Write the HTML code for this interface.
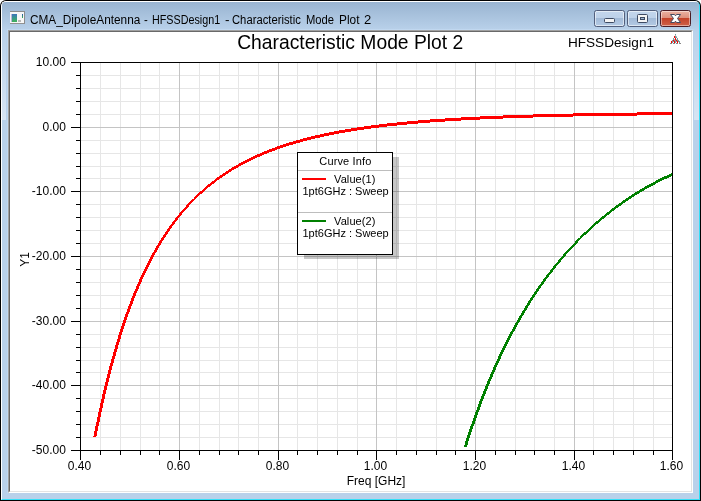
<!DOCTYPE html>
<html><head><meta charset="utf-8"><title>CMA_DipoleAntenna - HFSSDesign1 - Characteristic Mode Plot 2</title>
<style>
html,body{margin:0;padding:0;background:#fff;}
body{width:701px;height:501px;position:relative;overflow:hidden;font-family:"Liberation Sans",Arial,sans-serif;}
.abs{position:absolute;box-sizing:border-box;}
#outer{left:0;top:0;width:701px;height:501px;background:#000;border-radius:6px 6px 0 0;}
#inner{left:1px;top:1px;width:699px;height:499px;background:#b9d1ea;border-radius:5px 5px 0 0;border-left:1px solid #fff;border-top:1px solid #fff;border-right:1px solid #35dff7;border-bottom:1px solid #35dff7;}
#cap{left:2px;top:2px;width:697px;height:28px;background:linear-gradient(#99b4d1,#b9d1ea);border-radius:4px 4px 0 0;}
#hl{left:7px;top:29px;width:687px;height:465px;border:1px solid #c1d8f0;border-right-color:#b9d1ea;border-bottom-color:#b9d1ea;}
#edge{left:8px;top:30px;width:685px;height:463px;border:1px solid;border-color:#a0a0a0 #fff #fff #a0a0a0;}
#edge2{left:9px;top:31px;width:683px;height:461px;border:1px solid;border-color:#696969 #e3e3e3 #e3e3e3 #696969;background:#fff;}
#ttl{left:30px;top:11.5px;height:17px;line-height:17px;font-size:12.5px;color:#000;white-space:nowrap;}
#ttl span{position:absolute;top:0;transform-origin:0 0;white-space:nowrap;}
.btn{top:10px;width:31px;height:17px;border:1px solid #525f7c;border-radius:2.5px;box-shadow:inset 0 0 0 1px rgba(255,255,255,.55);background:linear-gradient(#c3d6ec 0,#bdd1e9 47%,#a3bbd8 50%,#b4cae4 100%);}
#bmin{left:594px;}#bmax{left:627px;}
#bcls{left:660px;border-color:#4b1c24;background:linear-gradient(#eab2a3 0,#dd8f7c 47%,#c4432a 50%,#cf6148 100%);box-shadow:inset 0 0 0 1px rgba(255,255,255,.45);}
.sg{top:30px;height:90px;background:linear-gradient(rgba(255,255,255,0),rgba(255,255,255,.42));}
.plot{position:absolute;left:0;top:0;}
#ico{left:10px;top:11px;width:15px;height:13px;background:#f7f7f7;border:1px solid #8c8c8c;border-left:0;border-bottom-color:#919191;}
#ico i{position:absolute;left:2px;top:2px;width:5px;height:8px;background:linear-gradient(#3d74bb,#3a9a8a 50%,#3fb058);box-shadow:-1px 0 0 #b9b4dc;}
#ico b{position:absolute;left:12px;top:2px;width:1px;height:4px;background:linear-gradient(#2a55b0,#3cb04a);}
#ico u{position:absolute;left:8px;top:8px;width:3px;height:2px;background:#b8b8b8;}
</style></head><body>
<div id="outer" class="abs"></div><div id="inner" class="abs"></div><div id="cap" class="abs"></div>
<div id="hl" class="abs"></div><div class="abs sg" style="left:2px;width:4px"></div><div class="abs sg" style="left:694px;width:5px"></div><div id="edge" class="abs"></div><div id="edge2" class="abs"></div>
<div id="ico" class="abs"><i></i><b></b><u></u></div>
<div id="ttl" class="abs"><span style="left:-0.36px;transform:scaleX(0.9450)">CMA_DipoleAntenna</span><span style="left:114.37px;transform:scaleX(0.9069)">-</span><span style="left:121.70px;transform:scaleX(0.8601)">HFSSDesign1</span><span style="left:194.94px;transform:scaleX(1.0813)">-</span><span style="left:201.97px;transform:scaleX(0.8999)">Characteristic</span><span style="left:275.97px;transform:scaleX(0.8972)">Mode</span><span style="left:309.34px;transform:scaleX(0.9480)">Plot</span><span style="left:333.67px;transform:scaleX(1.0408)">2</span></div>
<div id="bmin" class="abs btn"><svg width="29" height="15" style="position:absolute;left:0;top:0"><rect x="9.5" y="7.5" width="10" height="4" rx="1" fill="#f4f4f4" stroke="#3d4a62"/></svg></div>
<div id="bmax" class="abs btn"><svg width="29" height="15" style="position:absolute;left:0;top:0"><rect x="9.5" y="3.5" width="10" height="8" rx="1" fill="#f4f4f4" stroke="#3d4a62"/><rect x="12.5" y="6.5" width="4" height="2" fill="#9fb6d2" stroke="#3d4a62"/></svg></div>
<div id="bcls" class="abs btn"><svg width="29" height="15" style="position:absolute;left:0;top:0"><path d="M9.5 3.5H13.5L14.5 4.83L15.5 3.5H19.5L16.5 7.5L19.5 11.5H15.5L14.5 10.17L13.5 11.5H9.5L12.5 7.5Z" fill="#fff" stroke="#454a60" stroke-width="1" stroke-linejoin="round"/></svg></div>
<svg class="plot" width="701" height="501" viewBox="0 0 701 501" font-family="Liberation Sans, Arial, sans-serif"><g fill="#e6e6e6"><rect x="100" y="63" width="1" height="387"/><rect x="120" y="63" width="1" height="387"/><rect x="140" y="63" width="1" height="387"/><rect x="159" y="63" width="1" height="387"/><rect x="199" y="63" width="1" height="387"/><rect x="219" y="63" width="1" height="387"/><rect x="238" y="63" width="1" height="387"/><rect x="258" y="63" width="1" height="387"/><rect x="297" y="63" width="1" height="387"/><rect x="317" y="63" width="1" height="387"/><rect x="337" y="63" width="1" height="387"/><rect x="357" y="63" width="1" height="387"/><rect x="396" y="63" width="1" height="387"/><rect x="416" y="63" width="1" height="387"/><rect x="436" y="63" width="1" height="387"/><rect x="455" y="63" width="1" height="387"/><rect x="495" y="63" width="1" height="387"/><rect x="515" y="63" width="1" height="387"/><rect x="534" y="63" width="1" height="387"/><rect x="554" y="63" width="1" height="387"/><rect x="593" y="63" width="1" height="387"/><rect x="613" y="63" width="1" height="387"/><rect x="633" y="63" width="1" height="387"/><rect x="653" y="63" width="1" height="387"/><rect x="81" y="75" width="591" height="1"/><rect x="81" y="88" width="591" height="1"/><rect x="81" y="101" width="591" height="1"/><rect x="81" y="114" width="591" height="1"/><rect x="81" y="140" width="591" height="1"/><rect x="81" y="153" width="591" height="1"/><rect x="81" y="166" width="591" height="1"/><rect x="81" y="178" width="591" height="1"/><rect x="81" y="204" width="591" height="1"/><rect x="81" y="217" width="591" height="1"/><rect x="81" y="230" width="591" height="1"/><rect x="81" y="243" width="591" height="1"/><rect x="81" y="269" width="591" height="1"/><rect x="81" y="282" width="591" height="1"/><rect x="81" y="295" width="591" height="1"/><rect x="81" y="308" width="591" height="1"/><rect x="81" y="334" width="591" height="1"/><rect x="81" y="347" width="591" height="1"/><rect x="81" y="360" width="591" height="1"/><rect x="81" y="372" width="591" height="1"/><rect x="81" y="398" width="591" height="1"/><rect x="81" y="411" width="591" height="1"/><rect x="81" y="424" width="591" height="1"/><rect x="81" y="437" width="591" height="1"/></g>
<g fill="#c4c4c4"><rect x="179" y="63" width="1" height="387"/><rect x="278" y="63" width="1" height="387"/><rect x="376" y="63" width="1" height="387"/><rect x="475" y="63" width="1" height="387"/><rect x="574" y="63" width="1" height="387"/><rect x="81" y="127" width="591" height="1"/><rect x="81" y="191" width="591" height="1"/><rect x="81" y="256" width="591" height="1"/><rect x="81" y="321" width="591" height="1"/><rect x="81" y="385" width="591" height="1"/></g>
<path d="M393 157H399V259H304V255H393Z" fill="#000" fill-opacity="0.22"/>
<clipPath id="pc"><rect x="81" y="63" width="591" height="387"/></clipPath>
<g clip-path="url(#pc)"><path d="M637 112h36v1h-36zM573 113h100v1h-100zM533 114h140v1h-140zM503 115h134v1h-134zM480 116h93v1h-93zM461 117h72v1h-72zM445 118h58v1h-58zM430 119h50v1h-50zM418 120h43v1h-43zM407 121h38v1h-38zM397 122h33v1h-33zM387 123h31v1h-31zM379 124h28v1h-28zM371 125h26v1h-26zM364 126h23v1h-23zM357 127h22v1h-22zM351 128h20v1h-20zM345 129h19v1h-19zM339 130h18v1h-18zM334 131h17v1h-17zM329 132h16v1h-16zM324 133h15v1h-15zM320 134h14v1h-14zM315 135h14v1h-14zM311 136h13v1h-13zM307 137h13v1h-13zM303 138h12v1h-12zM300 139h11v1h-11zM296 140h11v1h-11zM293 141h10v1h-10zM289 142h11v1h-11zM286 143h10v1h-10zM283 144h10v1h-10zM280 145h9v1h-9zM277 146h9v1h-9zM275 147h8v1h-8zM272 148h8v1h-8zM269 149h8v1h-8zM267 150h8v1h-8zM264 151h8v1h-8zM262 152h7v1h-7zM260 153h7v1h-7zM257 154h7v1h-7zM255 155h7v1h-7zM253 156h7v1h-7zM251 157h6v1h-6zM249 158h6v1h-6zM247 159h6v1h-6zM245 160h6v1h-6zM243 161h6v1h-6zM241 162h6v1h-6zM239 163h6v1h-6zM238 164h5v1h-5zM236 165h5v1h-5zM234 166h5v1h-5zM232 167h6v1h-6zM231 168h5v1h-5zM229 169h5v1h-5zM228 170h4v1h-4zM226 171h5v1h-5zM225 172h4v1h-4zM223 173h5v1h-5zM222 174h4v1h-4zM220 175h5v1h-5zM219 176h4v1h-4zM217 177h5v1h-5zM216 178h4v1h-4zM215 179h4v1h-4zM214 180h3v1h-3zM212 181h4v1h-4zM211 182h4v1h-4zM210 183h4v1h-4zM208 184h4v1h-4zM207 185h4v1h-4zM206 186h4v1h-4zM205 187h3v1h-3zM204 188h3v1h-3zM203 189h3v1h-3zM202 190h3v1h-3zM200 191h4v1h-4zM199 192h4v1h-4zM198 193h4v1h-4zM197 194h3v1h-3zM196 195h3v1h-3zM195 196h3v1h-3zM194 197h3v1h-3zM194 198h2v1h-2zM192 199h3v1h-3zM191 200h3v1h-3zM190 201h3v1h-3zM189 202h3v1h-3zM188 203h3v1h-3zM187 204h3v1h-3zM186 205h3v1h-3zM186 206h3v1h-3zM185 207h3v1h-3zM184 208h3v1h-3zM183 209h3v1h-3zM182 210h3v1h-3zM181 211h3v1h-3zM180 212h3v1h-3zM179 213h3v1h-3zM179 214h3v1h-3zM178 215h3v1h-3zM177 216h3v1h-3zM176 217h3v1h-3zM175 218h3v1h-3zM175 219h3v1h-3zM174 220h3v1h-3zM173 221h3v1h-3zM172 222h3v1h-3zM172 223h3v1h-3zM171 224h3v1h-3zM170 225h3v1h-3zM169 226h3v1h-3zM169 227h3v1h-3zM168 228h3v1h-3zM167 229h3v1h-3zM167 230h3v1h-3zM166 231h3v1h-3zM165 232h3v1h-3zM165 233h3v1h-3zM164 234h3v1h-3zM163 235h3v1h-3zM163 236h3v1h-3zM162 237h3v1h-3zM161 238h3v1h-3zM161 239h3v1h-3zM160 240h3v1h-3zM159 241h3v1h-3zM159 242h3v1h-3zM158 243h3v1h-3zM158 244h3v1h-3zM157 245h3v1h-3zM156 246h3v1h-3zM156 247h3v1h-3zM155 248h3v1h-3zM155 249h3v1h-3zM154 250h3v1h-3zM154 251h3v1h-3zM153 252h3v1h-3zM152 253h3v1h-3zM152 254h3v1h-3zM151 255h3v1h-3zM151 256h3v1h-3zM150 257h3v1h-3zM150 258h3v1h-3zM149 259h3v1h-3zM149 260h3v1h-3zM148 261h3v1h-3zM148 262h3v1h-3zM147 263h3v1h-3zM147 264h3v1h-3zM146 265h3v1h-3zM146 266h3v1h-3zM145 267h3v1h-3zM145 268h3v1h-3zM144 269h3v1h-3zM144 270h3v1h-3zM143 271h3v1h-3zM143 272h3v1h-3zM142 273h3v1h-3zM142 274h3v1h-3zM141 275h3v1h-3zM141 276h3v1h-3zM140 277h3v1h-3zM140 278h3v1h-3zM139 279h3v1h-3zM139 280h3v1h-3zM139 281h3v1h-3zM138 282h3v1h-3zM138 283h3v1h-3zM137 284h3v1h-3zM137 285h3v1h-3zM136 286h3v1h-3zM136 287h3v1h-3zM136 288h3v1h-3zM135 289h3v1h-3zM135 290h3v1h-3zM134 291h3v1h-3zM134 292h3v1h-3zM133 293h3v1h-3zM133 294h3v1h-3zM133 295h3v1h-3zM132 296h3v1h-3zM132 297h3v1h-3zM131 298h3v1h-3zM131 299h3v1h-3zM131 300h3v1h-3zM130 301h3v1h-3zM130 302h3v1h-3zM130 303h3v1h-3zM129 304h3v1h-3zM129 305h3v1h-3zM128 306h3v1h-3zM128 307h3v1h-3zM128 308h3v1h-3zM127 309h3v1h-3zM127 310h3v1h-3zM127 311h3v1h-3zM126 312h3v1h-3zM126 313h3v1h-3zM125 314h3v1h-3zM125 315h3v1h-3zM125 316h3v1h-3zM124 317h3v1h-3zM124 318h3v1h-3zM124 319h3v1h-3zM123 320h3v1h-3zM123 321h3v1h-3zM123 322h3v1h-3zM122 323h3v1h-3zM122 324h3v1h-3zM122 325h3v1h-3zM121 326h3v1h-3zM121 327h3v1h-3zM121 328h3v1h-3zM120 329h3v1h-3zM120 330h3v1h-3zM120 331h3v1h-3zM119 332h3v1h-3zM119 333h3v1h-3zM119 334h3v1h-3zM118 335h3v1h-3zM118 336h3v1h-3zM118 337h3v1h-3zM118 338h3v1h-3zM117 339h3v1h-3zM117 340h3v1h-3zM117 341h3v1h-3zM116 342h3v1h-3zM116 343h3v1h-3zM116 344h3v1h-3zM115 345h3v1h-3zM115 346h3v1h-3zM115 347h3v1h-3zM115 348h3v1h-3zM114 349h3v1h-3zM114 350h3v1h-3zM114 351h3v1h-3zM113 352h3v1h-3zM113 353h3v1h-3zM113 354h3v1h-3zM113 355h3v1h-3zM112 356h3v1h-3zM112 357h3v1h-3zM112 358h3v1h-3zM111 359h3v1h-3zM111 360h3v1h-3zM111 361h3v1h-3zM111 362h3v1h-3zM110 363h3v1h-3zM110 364h3v1h-3zM110 365h3v1h-3zM109 366h3v1h-3zM109 367h3v1h-3zM109 368h3v1h-3zM109 369h3v1h-3zM108 370h3v1h-3zM108 371h3v1h-3zM108 372h3v1h-3zM108 373h3v1h-3zM107 374h3v1h-3zM107 375h3v1h-3zM107 376h3v1h-3zM107 377h3v1h-3zM106 378h3v1h-3zM106 379h3v1h-3zM106 380h3v1h-3zM106 381h3v1h-3zM105 382h3v1h-3zM105 383h3v1h-3zM105 384h3v1h-3zM105 385h3v1h-3zM104 386h3v1h-3zM104 387h3v1h-3zM104 388h3v1h-3zM104 389h3v1h-3zM103 390h3v1h-3zM103 391h3v1h-3zM103 392h3v1h-3zM103 393h3v1h-3zM102 394h3v1h-3zM102 395h3v1h-3zM102 396h3v1h-3zM102 397h3v1h-3zM102 398h3v1h-3zM101 399h3v1h-3zM101 400h3v1h-3zM101 401h3v1h-3zM101 402h3v1h-3zM100 403h3v1h-3zM100 404h3v1h-3zM100 405h3v1h-3zM100 406h3v1h-3zM100 407h3v1h-3zM99 408h3v1h-3zM99 409h3v1h-3zM99 410h3v1h-3zM99 411h3v1h-3zM98 412h3v1h-3zM98 413h3v1h-3zM98 414h3v1h-3zM98 415h3v1h-3zM98 416h3v1h-3zM97 417h3v1h-3zM97 418h3v1h-3zM97 419h3v1h-3zM97 420h3v1h-3zM97 421h3v1h-3zM96 422h3v1h-3zM96 423h3v1h-3zM96 424h3v1h-3zM96 425h3v1h-3zM95 426h3v1h-3zM95 427h3v1h-3zM95 428h3v1h-3zM95 429h3v1h-3zM95 430h3v1h-3zM94 431h3v1h-3zM94 432h3v1h-3zM94 433h3v1h-3zM94 434h3v1h-3zM94 435h3v1h-3zM93 436h3v1h-3z" fill="#ff0000" shape-rendering="crispEdges"/><path d="M671 173h2v1h-2zM669 174h4v1h-4zM667 175h6v1h-6zM664 176h7v1h-7zM662 177h7v1h-7zM660 178h7v1h-7zM658 179h6v1h-6zM656 180h6v1h-6zM655 181h5v1h-5zM653 182h5v1h-5zM651 183h5v1h-5zM649 184h6v1h-6zM647 185h6v1h-6zM645 186h6v1h-6zM644 187h5v1h-5zM642 188h5v1h-5zM640 189h5v1h-5zM639 190h5v1h-5zM637 191h5v1h-5zM635 192h5v1h-5zM634 193h5v1h-5zM632 194h5v1h-5zM631 195h4v1h-4zM629 196h5v1h-5zM628 197h4v1h-4zM626 198h5v1h-5zM625 199h4v1h-4zM623 200h5v1h-5zM622 201h4v1h-4zM621 202h4v1h-4zM619 203h4v1h-4zM618 204h4v1h-4zM616 205h5v1h-5zM615 206h4v1h-4zM614 207h4v1h-4zM612 208h4v1h-4zM611 209h4v1h-4zM610 210h4v1h-4zM609 211h3v1h-3zM607 212h4v1h-4zM606 213h4v1h-4zM605 214h4v1h-4zM604 215h3v1h-3zM602 216h4v1h-4zM601 217h4v1h-4zM600 218h4v1h-4zM599 219h3v1h-3zM598 220h3v1h-3zM596 221h4v1h-4zM595 222h4v1h-4zM594 223h4v1h-4zM593 224h3v1h-3zM592 225h3v1h-3zM591 226h3v1h-3zM590 227h3v1h-3zM589 228h3v1h-3zM588 229h3v1h-3zM587 230h3v1h-3zM586 231h3v1h-3zM584 232h4v1h-4zM583 233h4v1h-4zM582 234h4v1h-4zM581 235h3v1h-3zM580 236h3v1h-3zM580 237h2v1h-2zM578 238h3v1h-3zM577 239h3v1h-3zM576 240h3v1h-3zM575 241h3v1h-3zM575 242h3v1h-3zM574 243h3v1h-3zM573 244h3v1h-3zM572 245h3v1h-3zM571 246h3v1h-3zM570 247h3v1h-3zM569 248h3v1h-3zM568 249h3v1h-3zM567 250h3v1h-3zM566 251h3v1h-3zM565 252h3v1h-3zM564 253h3v1h-3zM563 254h3v1h-3zM563 255h3v1h-3zM562 256h3v1h-3zM561 257h3v1h-3zM560 258h3v1h-3zM559 259h3v1h-3zM558 260h3v1h-3zM558 261h3v1h-3zM557 262h3v1h-3zM556 263h3v1h-3zM555 264h3v1h-3zM554 265h3v1h-3zM553 266h3v1h-3zM553 267h3v1h-3zM552 268h3v1h-3zM551 269h3v1h-3zM550 270h3v1h-3zM550 271h3v1h-3zM549 272h3v1h-3zM548 273h3v1h-3zM547 274h3v1h-3zM546 275h3v1h-3zM546 276h3v1h-3zM545 277h3v1h-3zM544 278h3v1h-3zM543 279h3v1h-3zM543 280h3v1h-3zM542 281h3v1h-3zM541 282h3v1h-3zM541 283h3v1h-3zM540 284h3v1h-3zM539 285h3v1h-3zM538 286h3v1h-3zM538 287h3v1h-3zM537 288h3v1h-3zM536 289h3v1h-3zM536 290h3v1h-3zM535 291h3v1h-3zM534 292h3v1h-3zM534 293h3v1h-3zM533 294h3v1h-3zM532 295h3v1h-3zM532 296h3v1h-3zM531 297h3v1h-3zM530 298h3v1h-3zM530 299h3v1h-3zM529 300h3v1h-3zM528 301h3v1h-3zM528 302h3v1h-3zM527 303h3v1h-3zM527 304h3v1h-3zM526 305h3v1h-3zM525 306h3v1h-3zM525 307h3v1h-3zM524 308h3v1h-3zM524 309h3v1h-3zM523 310h3v1h-3zM522 311h3v1h-3zM522 312h3v1h-3zM521 313h3v1h-3zM521 314h3v1h-3zM520 315h3v1h-3zM519 316h3v1h-3zM519 317h3v1h-3zM518 318h3v1h-3zM518 319h3v1h-3zM517 320h3v1h-3zM517 321h3v1h-3zM516 322h3v1h-3zM515 323h3v1h-3zM515 324h3v1h-3zM514 325h3v1h-3zM514 326h3v1h-3zM513 327h3v1h-3zM513 328h3v1h-3zM512 329h3v1h-3zM512 330h3v1h-3zM511 331h3v1h-3zM510 332h3v1h-3zM510 333h3v1h-3zM509 334h3v1h-3zM509 335h3v1h-3zM508 336h3v1h-3zM508 337h3v1h-3zM507 338h3v1h-3zM507 339h3v1h-3zM506 340h3v1h-3zM506 341h3v1h-3zM505 342h3v1h-3zM505 343h3v1h-3zM504 344h3v1h-3zM504 345h3v1h-3zM503 346h3v1h-3zM503 347h3v1h-3zM502 348h3v1h-3zM502 349h3v1h-3zM501 350h3v1h-3zM501 351h3v1h-3zM500 352h3v1h-3zM500 353h3v1h-3zM499 354h3v1h-3zM499 355h3v1h-3zM498 356h3v1h-3zM498 357h3v1h-3zM498 358h3v1h-3zM497 359h3v1h-3zM497 360h3v1h-3zM496 361h3v1h-3zM496 362h3v1h-3zM495 363h3v1h-3zM495 364h3v1h-3zM494 365h3v1h-3zM494 366h3v1h-3zM493 367h3v1h-3zM493 368h3v1h-3zM493 369h3v1h-3zM492 370h3v1h-3zM492 371h3v1h-3zM491 372h3v1h-3zM491 373h3v1h-3zM490 374h3v1h-3zM490 375h3v1h-3zM490 376h3v1h-3zM489 377h3v1h-3zM489 378h3v1h-3zM488 379h3v1h-3zM488 380h3v1h-3zM487 381h3v1h-3zM487 382h3v1h-3zM487 383h3v1h-3zM486 384h3v1h-3zM486 385h3v1h-3zM485 386h3v1h-3zM485 387h3v1h-3zM485 388h3v1h-3zM484 389h3v1h-3zM484 390h3v1h-3zM483 391h3v1h-3zM483 392h3v1h-3zM483 393h3v1h-3zM482 394h3v1h-3zM482 395h3v1h-3zM481 396h3v1h-3zM481 397h3v1h-3zM481 398h3v1h-3zM480 399h3v1h-3zM480 400h3v1h-3zM479 401h3v1h-3zM479 402h3v1h-3zM479 403h3v1h-3zM478 404h3v1h-3zM478 405h3v1h-3zM478 406h3v1h-3zM477 407h3v1h-3zM477 408h3v1h-3zM477 409h3v1h-3zM476 410h3v1h-3zM476 411h3v1h-3zM475 412h3v1h-3zM475 413h3v1h-3zM475 414h3v1h-3zM474 415h3v1h-3zM474 416h3v1h-3zM474 417h3v1h-3zM473 418h3v1h-3zM473 419h3v1h-3zM473 420h3v1h-3zM472 421h3v1h-3zM472 422h3v1h-3zM472 423h3v1h-3zM471 424h3v1h-3zM471 425h3v1h-3zM470 426h3v1h-3zM470 427h3v1h-3zM470 428h3v1h-3zM469 429h3v1h-3zM469 430h3v1h-3zM469 431h3v1h-3zM468 432h3v1h-3zM468 433h3v1h-3zM468 434h3v1h-3zM467 435h3v1h-3zM467 436h3v1h-3zM467 437h3v1h-3zM466 438h3v1h-3zM466 439h3v1h-3zM466 440h3v1h-3zM465 441h3v1h-3zM465 442h3v1h-3zM465 443h3v1h-3zM465 444h3v1h-3zM464 445h3v1h-3zM464 446h3v1h-3z" fill="#008000" shape-rendering="crispEdges"/></g>
<g fill="#000"><rect x="71" y="62" width="602" height="1"/><rect x="71" y="450" width="602" height="1"/><rect x="80" y="62" width="1" height="398"/><rect x="672" y="62" width="1" height="398"/><rect x="76" y="75" width="4" height="1"/><rect x="100" y="451" width="1" height="4"/><rect x="76" y="88" width="4" height="1"/><rect x="120" y="451" width="1" height="4"/><rect x="76" y="101" width="4" height="1"/><rect x="140" y="451" width="1" height="4"/><rect x="76" y="114" width="4" height="1"/><rect x="159" y="451" width="1" height="4"/><rect x="71" y="127" width="9" height="1"/><rect x="179" y="451" width="1" height="9"/><rect x="76" y="140" width="4" height="1"/><rect x="199" y="451" width="1" height="4"/><rect x="76" y="153" width="4" height="1"/><rect x="219" y="451" width="1" height="4"/><rect x="76" y="166" width="4" height="1"/><rect x="238" y="451" width="1" height="4"/><rect x="76" y="178" width="4" height="1"/><rect x="258" y="451" width="1" height="4"/><rect x="71" y="191" width="9" height="1"/><rect x="278" y="451" width="1" height="9"/><rect x="76" y="204" width="4" height="1"/><rect x="297" y="451" width="1" height="4"/><rect x="76" y="217" width="4" height="1"/><rect x="317" y="451" width="1" height="4"/><rect x="76" y="230" width="4" height="1"/><rect x="337" y="451" width="1" height="4"/><rect x="76" y="243" width="4" height="1"/><rect x="357" y="451" width="1" height="4"/><rect x="71" y="256" width="9" height="1"/><rect x="376" y="451" width="1" height="9"/><rect x="76" y="269" width="4" height="1"/><rect x="396" y="451" width="1" height="4"/><rect x="76" y="282" width="4" height="1"/><rect x="416" y="451" width="1" height="4"/><rect x="76" y="295" width="4" height="1"/><rect x="436" y="451" width="1" height="4"/><rect x="76" y="308" width="4" height="1"/><rect x="455" y="451" width="1" height="4"/><rect x="71" y="321" width="9" height="1"/><rect x="475" y="451" width="1" height="9"/><rect x="76" y="334" width="4" height="1"/><rect x="495" y="451" width="1" height="4"/><rect x="76" y="347" width="4" height="1"/><rect x="515" y="451" width="1" height="4"/><rect x="76" y="360" width="4" height="1"/><rect x="534" y="451" width="1" height="4"/><rect x="76" y="372" width="4" height="1"/><rect x="554" y="451" width="1" height="4"/><rect x="71" y="385" width="9" height="1"/><rect x="574" y="451" width="1" height="9"/><rect x="76" y="398" width="4" height="1"/><rect x="593" y="451" width="1" height="4"/><rect x="76" y="411" width="4" height="1"/><rect x="613" y="451" width="1" height="4"/><rect x="76" y="424" width="4" height="1"/><rect x="633" y="451" width="1" height="4"/><rect x="76" y="437" width="4" height="1"/><rect x="653" y="451" width="1" height="4"/></g>
<g font-size="12" fill="#000"><text x="65.9" y="66.2" text-anchor="end">10.00</text><text x="65.9" y="131.2" text-anchor="end">0.00</text><text x="65.9" y="195.2" text-anchor="end">-10.00</text><text x="65.9" y="260.2" text-anchor="end">-20.00</text><text x="65.9" y="325.2" text-anchor="end">-30.00</text><text x="65.9" y="389.2" text-anchor="end">-40.00</text><text x="65.9" y="454.2" text-anchor="end">-50.00</text><text x="79.5" y="469.6" text-anchor="middle">0.40</text><text x="178.5" y="469.6" text-anchor="middle">0.60</text><text x="277.5" y="469.6" text-anchor="middle">0.80</text><text x="375.5" y="469.6" text-anchor="middle">1.00</text><text x="474.5" y="469.6" text-anchor="middle">1.20</text><text x="573.5" y="469.6" text-anchor="middle">1.40</text><text x="671.5" y="469.6" text-anchor="middle">1.60</text><text x="376.1" y="485" text-anchor="middle">Freq [GHz]</text><text transform="translate(29,259.5) rotate(-90)" text-anchor="middle">Y1</text></g>
<text x="350.2" y="49" font-size="19.3" text-anchor="middle">Characteristic Mode Plot 2</text>
<text x="611" y="46.7" font-size="13.6" text-anchor="middle">HFSSDesign1</text>
<rect x="297.5" y="152.5" width="95" height="102" fill="#fff" stroke="#000" stroke-width="1"/><rect x="298" y="170" width="94" height="1" fill="#bdbdbd"/><rect x="298" y="212" width="94" height="1" fill="#bdbdbd"/><rect x="302" y="178" width="24" height="2" fill="#ff0000"/><rect x="302" y="220" width="24" height="2" fill="#008000"/><g font-size="11" fill="#000"><text x="319.3" y="165" textLength="52">Curve Info</text><text x="334" y="183" textLength="41.5">Value(1)</text><text x="302.5" y="194.6">1pt6GHz : Sweep</text><text x="334" y="225" textLength="41.5">Value(2)</text><text x="302.5" y="236.6">1pt6GHz : Sweep</text></g>
<g shape-rendering="crispEdges"><rect x="675" y="34" width="1" height="1" fill="#7d9a9c"/><rect x="675" y="35" width="1" height="1" fill="#a9bcbd"/><rect x="674" y="36" width="1" height="1" fill="#ff0000"/><rect x="675" y="36" width="1" height="1" fill="#7d9a9c"/><rect x="676" y="36" width="1" height="1" fill="#a9bcbd"/><rect x="674" y="37" width="1" height="1" fill="#ff0000"/><rect x="675" y="37" width="1" height="1" fill="#7d9a9c"/><rect x="676" y="37" width="1" height="1" fill="#7d9a9c"/><rect x="673" y="38" width="1" height="1" fill="#7d9a9c"/><rect x="675" y="38" width="1" height="1" fill="#ff0000"/><rect x="677" y="38" width="1" height="1" fill="#7d9a9c"/><rect x="673" y="39" width="1" height="1" fill="#7d9a9c"/><rect x="674" y="39" width="1" height="1" fill="#a9bcbd"/><rect x="675" y="39" width="1" height="1" fill="#ff0000"/><rect x="676" y="39" width="1" height="1" fill="#a9bcbd"/><rect x="677" y="39" width="1" height="1" fill="#7d9a9c"/><rect x="672" y="40" width="1" height="1" fill="#7d9a9c"/><rect x="673" y="40" width="1" height="1" fill="#ff0000"/><rect x="674" y="40" width="1" height="1" fill="#7d9a9c"/><rect x="675" y="40" width="1" height="1" fill="#7d9a9c"/><rect x="676" y="40" width="1" height="1" fill="#ff0000"/><rect x="677" y="40" width="1" height="1" fill="#7d9a9c"/><rect x="678" y="40" width="1" height="1" fill="#7d9a9c"/><rect x="671" y="41" width="1" height="1" fill="#ff0000"/><rect x="672" y="41" width="1" height="1" fill="#7d9a9c"/><rect x="673" y="41" width="1" height="1" fill="#7d9a9c"/><rect x="674" y="41" width="1" height="1" fill="#ff0000"/><rect x="675" y="41" width="1" height="1" fill="#7d9a9c"/><rect x="676" y="41" width="1" height="1" fill="#7d9a9c"/><rect x="677" y="41" width="1" height="1" fill="#ff0000"/><rect x="678" y="41" width="1" height="1" fill="#7d9a9c"/><rect x="679" y="41" width="1" height="1" fill="#7d9a9c"/><rect x="671" y="42" width="1" height="1" fill="#ff0000"/><rect x="672" y="42" width="1" height="1" fill="#7d9a9c"/><rect x="674" y="42" width="1" height="1" fill="#ff0000"/><rect x="675" y="42" width="1" height="1" fill="#7d9a9c"/><rect x="677" y="42" width="1" height="1" fill="#ff0000"/><rect x="679" y="42" width="1" height="1" fill="#7d9a9c"/><rect x="670" y="43" width="1" height="1" fill="#888"/><rect x="671" y="43" width="1" height="1" fill="#888"/><rect x="673" y="43" width="1" height="1" fill="#888"/><rect x="674" y="43" width="1" height="1" fill="#888"/><rect x="676" y="43" width="1" height="1" fill="#888"/><rect x="677" y="43" width="1" height="1" fill="#888"/><rect x="679" y="43" width="1" height="1" fill="#888"/><rect x="680" y="43" width="1" height="1" fill="#888"/></g></svg>
</body></html>
